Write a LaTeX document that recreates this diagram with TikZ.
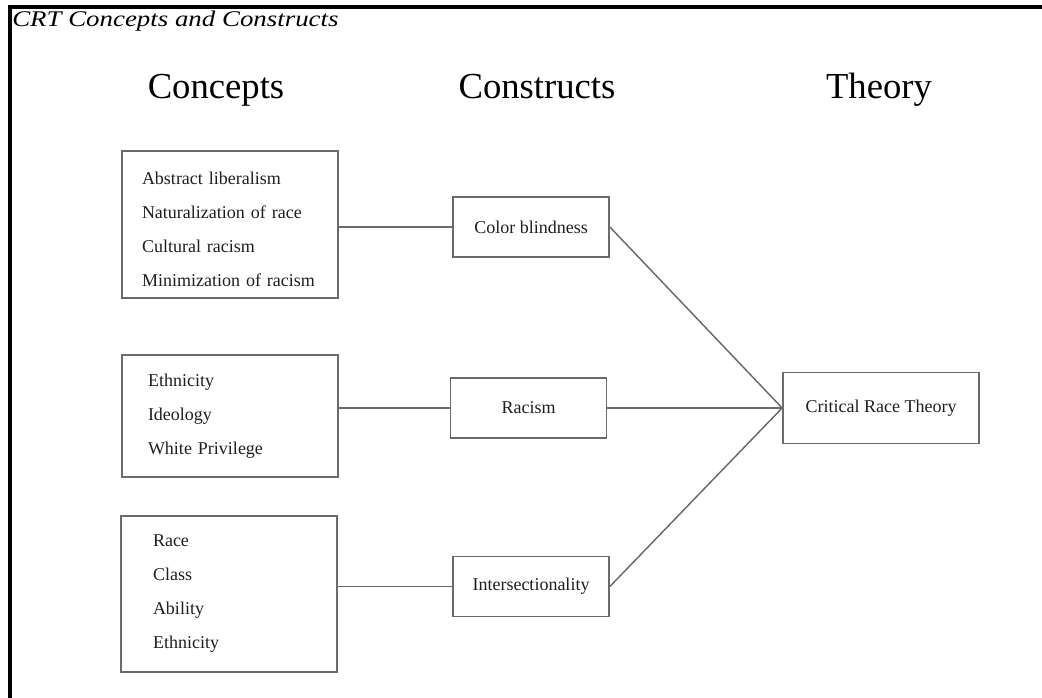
\documentclass[tikz,border=0pt]{standalone}
\usepackage{fontspec}
\setmainfont{Liberation Serif}
\newfontfamily\captionfont{Liberation Serif}[FakeStretch=1.2]
\definecolor{LineGray}{HTML}{6A6A6A}
\definecolor{InkGray}{HTML}{1E1E1E}

\begin{document}
\begin{tikzpicture}[
    x=0.75pt, y=-0.75pt,
    head/.style={anchor=base, font=\fontsize{27.5}{33}\selectfont},
    concept/.style={draw=LineGray, line width=1.3pt, minimum width=162pt, align=left,
      inner xsep=17pt, text width=128pt, font=\fontsize{13.5}{25.5}\selectfont, text=InkGray},
    construct/.style={draw=LineGray, line width=1.3pt, minimum width=117pt, minimum height=45pt,
      align=center, font=\fontsize{13.5}{16}\selectfont, text=InkGray},
    link/.style={draw=LineGray, line width=1.1pt}
  ]
    \useasboundingbox (0,0) rectangle (1042,698);
    % frame and caption
    \draw[line width=2.4pt] (10,698) -- (10,7) -- (1042,7);
    \node[anchor=base west, inner xsep=0pt, font=\captionfont\itshape\fontsize{16.8}{20}\selectfont, text=black] (title) at (12,27) {CRT Concepts and Constructs};

    % column heads
    \node[head] (hconcepts) at (216,99) {Concepts};
    \node[head] (hconstructs) at (537,99) {Constructs};
    \node[head] (htheory) at (879,99) {Theory};

    % concepts
    \node[concept, minimum height=110.25pt, inner xsep=15pt, text width=132pt, text height=17pt] (colorset) at (230,224.5)
      {Abstract liberalism\\Naturalization of race\\Cultural racism\\Minimization of racism};
    \node[concept, minimum height=91.5pt, inner xsep=19.5pt, text width=123pt] (racismset) at (230,416)
      {Ethnicity\\Ideology\\White Privilege};
    \node[concept, minimum height=117pt, inner xsep=24pt, text width=114pt] (interset) at (229,594)
      {Race\\Class\\Ability\\Ethnicity};

    % constructs
    \node[construct] (color) at (531,227) {Color blindness};
    \node[construct] (racism) at (528.5,408) {Racism};
    \node[construct] (inter) at (531,586.5) {Intersectionality};

    % theory
    \node[construct, minimum width=147pt, minimum height=53.25pt] (crt) at (881,408) {Critical Race Theory};

    \draw[link] (colorset.east |- color.west) -- (color.west);
    \draw[link] (racismset.east |- racism.west) -- (racism.west);
    \draw[link] (interset.east |- inter.west) -- (inter.west);
    \draw[link] (color.east) -- (crt.west);
    \draw[link] (racism.east) -- (crt.west);
    \draw[link] (inter.east) -- (crt.west);
  \end{tikzpicture}
\end{document}
